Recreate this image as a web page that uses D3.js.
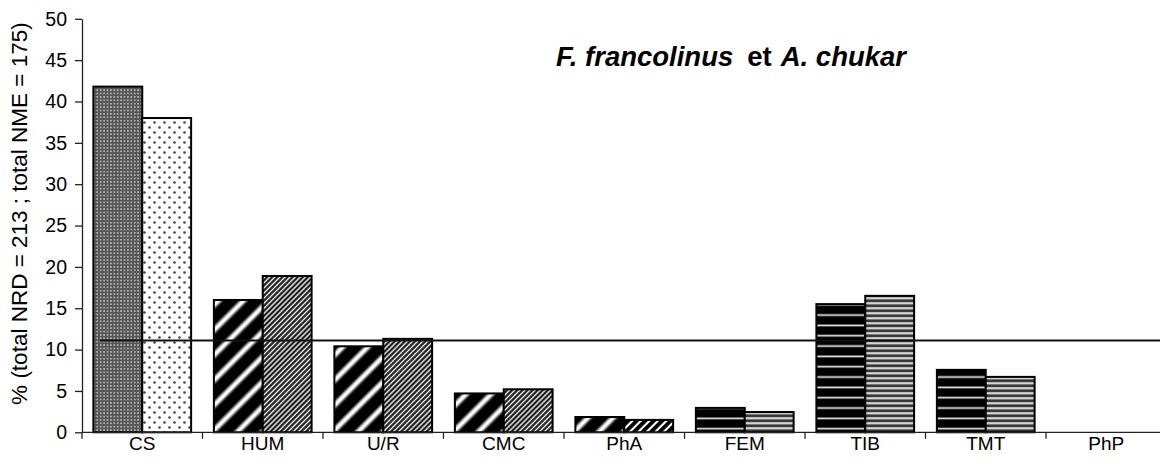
<!DOCTYPE html>
<html>
<head>
<meta charset="utf-8">
<script src="https://cdn.jsdelivr.net/npm/d3@7"></script>
<style>
  body { margin: 0; background: #fff; }
  svg { display: block; }
  text { font-family: "Liberation Sans", Arial, sans-serif; fill: #000; }
</style>
</head>
<body>
<svg id="chart" width="1160" height="475"></svg>
<script>
// Skeletal-element frequencies (%), NRD and NME per element
const categories = ["CS", "HUM", "U/R", "CMC", "PhA", "FEM", "TIB", "TMT", "PhP"];
const seriesNames = ["NRD", "NME"];
const valuesNRD = [41.8, 16.0, 10.4, 4.7, 1.85, 2.95, 15.5, 7.55, 0];
const valuesNME = [38.0, 18.9, 11.3, 5.2, 1.5, 2.45, 16.5, 6.7, 0];
const yTickValues = [0, 5, 10, 15, 20, 25, 30, 35, 40, 45, 50];
const meanValue = 11.1;
const yTitle = "% (total NRD = 213 ; total NME = 175)";

// fill pattern per element, for each series
const fillNRD = ["dotsDense", "diagWide", "diagWide", "diagWide", "diagWide", "horizWide", "horizWide", "horizWide", "horizWide"];
const fillNME = ["dotsSparse", "diagNarrow", "diagNarrow", "diagNarrow", "diagSmall", "horizNarrow", "horizNarrow", "horizNarrow", "horizNarrow"];

const svg = d3.select("#chart");
const plotLeft = 82, plotRight = 1166.5, plotTop = 18.8, plotBottom = 432.3;

const x = d3.scaleBand().domain(categories).range([plotLeft, plotRight]).padding(0);
const xSub = d3.scaleBand().domain(seriesNames).range([0, x.bandwidth()])
  .paddingInner(0).paddingOuter(0.233);
const y = d3.scaleLinear().domain([0, 50]).range([plotBottom, plotTop]);

// ---- patterns ----
const defs = svg.append("defs");

function gradient(id, stops) {
  const g = defs.append("linearGradient").attr("id", id)
    .attr("x1", 0).attr("y1", 0).attr("x2", 1).attr("y2", 0);
  stops.forEach(([o, c]) => g.append("stop").attr("offset", o).attr("stop-color", c));
}
function vgradient(id, stops) {
  const g = defs.append("linearGradient").attr("id", id)
    .attr("x1", 0).attr("y1", 0).attr("x2", 0).attr("y2", 1);
  stops.forEach(([o, c]) => g.append("stop").attr("offset", o).attr("stop-color", c));
}

// dense grey dots
{
  const p = defs.append("pattern").attr("id", "dotsDense").attr("patternUnits", "userSpaceOnUse")
    .attr("width", 3.4).attr("height", 3.4);
  p.append("rect").attr("width", 3.4).attr("height", 3.4).attr("fill", "#555");
  p.append("circle").attr("cx", 1.7).attr("cy", 1.7).attr("r", 0.85).attr("fill", "#d0d0d0");
}
// sparse dots on white
{
  const p = defs.append("pattern").attr("id", "dotsSparse").attr("patternUnits", "userSpaceOnUse")
    .attr("width", 10).attr("height", 10);
  p.append("rect").attr("width", 10).attr("height", 10).attr("fill", "#fff");
  p.append("circle").attr("cx", 2.5).attr("cy", 2.5).attr("r", 1.3).attr("fill", "#444");
  p.append("circle").attr("cx", 7.5).attr("cy", 7.5).attr("r", 1.3).attr("fill", "#444");
}
// diagonal stripes ("/")
function diagPattern(id, period, stops) {
  gradient(id + "-g", stops);
  const p = defs.append("pattern").attr("id", id).attr("patternUnits", "userSpaceOnUse")
    .attr("width", period).attr("height", period).attr("patternTransform", "rotate(45)");
  p.append("rect").attr("width", period).attr("height", period).attr("fill", `url(#${id}-g)`);
}
diagPattern("diagWide", 17.7, [[0, "#000"], [0.42, "#000"], [0.6, "#fff"], [0.7, "#fff"], [0.88, "#000"], [1, "#000"]]);
diagPattern("diagNarrow", 3.6, [[0, "#000"], [0.3, "#111"], [0.55, "#fff"], [0.7, "#fff"], [0.95, "#111"], [1, "#000"]]);
diagPattern("diagSmall", 6.0, [[0, "#000"], [0.4, "#000"], [0.55, "#fff"], [0.8, "#fff"], [0.9, "#000"], [1, "#000"]]);

// horizontal lines
function horizPattern(id, period, stops) {
  vgradient(id + "-g", stops);
  const p = defs.append("pattern").attr("id", id).attr("patternUnits", "userSpaceOnUse")
    .attr("width", 20).attr("height", period);
  p.append("rect").attr("width", 20).attr("height", period).attr("fill", `url(#${id}-g)`);
}
horizPattern("horizWide", 10.33, [[0, "#000"], [0.36, "#000"], [0.44, "#999"], [0.5, "#eee"], [0.56, "#999"], [0.64, "#000"], [1, "#000"]]);
horizPattern("horizNarrow", 5.0, [[0, "#333"], [0.3, "#3a3a3a"], [0.5, "#bbb"], [0.7, "#d4d4d4"], [0.9, "#777"], [1, "#333"]]);

// ---- axes ----
const yAxis = d3.axisLeft(y).tickValues(yTickValues).tickSize(7).tickPadding(8).tickSizeOuter(0);
const gy = svg.append("g").attr("transform", `translate(${plotLeft},0)`).call(yAxis);
gy.select(".domain").attr("stroke", "#222").attr("stroke-width", 1.3);
gy.selectAll(".tick line").attr("stroke", "#222").attr("stroke-width", 1.3);
gy.selectAll(".tick text").style("font-size", "19.5px").attr("fill", "#000");

// category boundary ticks on the x axis
const boundaries = categories.map(c => x(c)).concat([plotRight]);
svg.append("g").selectAll("line").data(boundaries).join("line")
  .attr("x1", d => d).attr("x2", d => d)
  .attr("y1", plotBottom).attr("y2", plotBottom + 6.5)
  .attr("stroke", "#222").attr("stroke-width", 1.3);

// ---- bars ----
const rows = categories.map((c, i) => ({
  cat: c,
  bars: [
    { s: "NRD", v: valuesNRD[i], fill: fillNRD[i] },
    { s: "NME", v: valuesNME[i], fill: fillNME[i] }
  ]
}));

svg.append("g").selectAll("g").data(rows).join("g")
  .attr("transform", d => `translate(${x(d.cat)},0)`)
  .selectAll("rect").data(d => d.bars.filter(b => b.v > 0)).join("rect")
  .attr("x", b => xSub(b.s))
  .attr("width", xSub.bandwidth())
  .attr("y", b => y(b.v))
  .attr("height", b => y(0) - y(b.v))
  .attr("fill", b => `url(#${b.fill})`)
  .attr("stroke", "#000")
  .attr("stroke-width", 2);

// x axis line drawn over bar bottoms
svg.append("line").attr("x1", plotLeft).attr("x2", plotRight)
  .attr("y1", plotBottom).attr("y2", plotBottom)
  .attr("stroke", "#222").attr("stroke-width", 1.3);

// category labels
svg.append("g").selectAll("text").data(categories).join("text")
  .attr("x", c => x(c) + x.bandwidth() / 2)
  .attr("y", 450)
  .attr("text-anchor", "middle")
  .style("font-size", "19px")
  .text(c => c);

// mean reference line
svg.append("line")
  .attr("x1", 100).attr("x2", 1160)
  .attr("y1", y(meanValue)).attr("y2", y(meanValue))
  .attr("stroke", "#111").attr("stroke-width", 1.8);

// y axis title
svg.append("text")
  .attr("transform", `translate(27,${(plotTop + plotBottom) / 2 - 12}) rotate(-90)`)
  .attr("text-anchor", "middle")
  .style("font-size", "22.5px")
  .text(yTitle);

// chart title
const title = svg.append("text").attr("x", 556).attr("y", 66)
  .style("font-size", "27.5px").style("font-weight", "bold");
title.append("tspan").style("font-style", "italic").text("F. francolinus");
title.append("tspan").attr("dx", 14).text("et");
title.append("tspan").attr("dx", 9).style("font-style", "italic").text("A. chukar");
</script>
</body>
</html>
